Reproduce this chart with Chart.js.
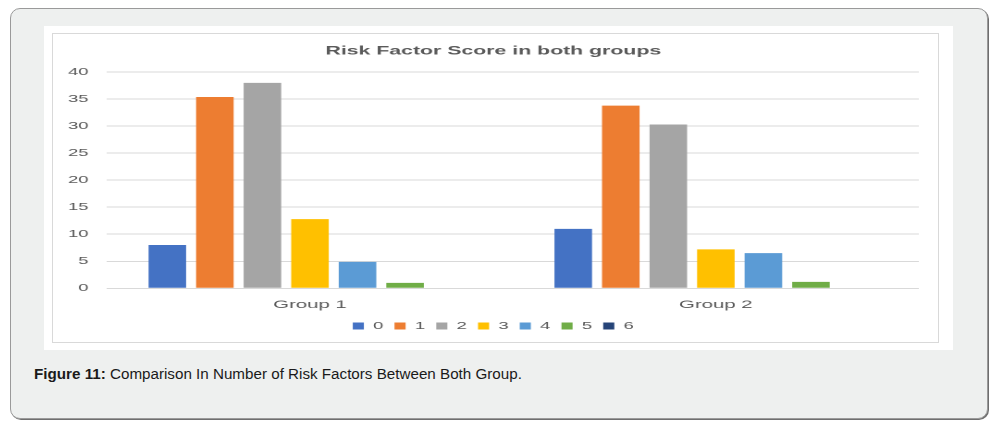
<!DOCTYPE html>
<html>
<head>
<meta charset="utf-8">
<script src="https://cdn.jsdelivr.net/npm/chart.js@4.4.1/dist/chart.umd.min.js"></script>
<style>
  html, body { margin: 0; padding: 0; background: #ffffff; }
  body { width: 1003px; height: 428px; position: relative; overflow: hidden; font-family: "Liberation Sans", Arial, sans-serif; }
  #outer { position: absolute; left: 10px; top: 8px; width: 978px; height: 411px; box-sizing: border-box;
           border: 1px solid #9a9a9a; border-radius: 10px; background: #eef0ef; box-shadow: 1px 1px 0 #6f6f6f; }
  #panel { position: absolute; left: 44px; top: 26px; width: 909px; height: 324px; background: #ffffff; }
  #frame { position: absolute; left: 52px; top: 33px; width: 887px; height: 310px; box-sizing: border-box; border: 1px solid #d9d9d9; }
  #wrap { position: absolute; left: 53px; top: 34px; width: 479px; height: 308px; transform: scaleX(1.85); transform-origin: 0 0; }
  #caption { position: absolute; left: 34px; top: 365.4px; font-size: 15.2px; line-height: 17px; color: #1a1a1a; white-space: nowrap; }
</style>
</head>
<body>
<div id="outer"></div>
<div id="panel"></div>
<div id="frame"></div>
<div id="wrap"><canvas id="c" width="479" height="308" style="width:479px;height:308px"></canvas></div>
<div id="caption"><b>Figure 11:</b> Comparison In Number of Risk Factors Between Both Group.</div>
<script>
const chartTitle = "Risk Factor Score in both groups";
const categories = ["Group 1", "Group 2"];
const seriesNames = ["0", "1", "2", "3", "4", "5", "6"];
const score0 = [8, 11];
const score1 = [35.4, 33.8];
const score2 = [38, 30.3];
const score3 = [12.8, 7.2];
const score4 = [4.9, 6.5];
const score5 = [1, 1.2];
const score6 = [0, 0];
const seriesColors = ["#4472C4", "#ED7D31", "#A5A5A5", "#FFC000", "#5B9BD5", "#70AD47", "#264478"];
const yMin = 0, yMax = 40, yStep = 5;

const seriesValues = [score0, score1, score2, score3, score4, score5, score6];
const datasets = seriesNames.map((n, i) => ({
  label: n,
  data: seriesValues[i],
  backgroundColor: seriesColors[i],
  borderWidth: 0,
  categoryPercentage: 0.82,
  barPercentage: 0.79
}));

const fontFam = '"Liberation Sans", Arial, sans-serif';
new Chart(document.getElementById('c'), {
  type: 'bar',
  data: { labels: categories, datasets },
  options: {
    responsive: false,
    animation: false,
    devicePixelRatio: 2,
    layout: { padding: { left: 8, right: 11, top: 0, bottom: 1 } },
    plugins: {
      title: {
        display: true, text: chartTitle, color: '#5a5a5a',
        font: { family: fontFam, size: 11.5, weight: 'bold' },
        padding: { top: 10.5, bottom: 13.8 }
      },
      legend: {
        position: 'bottom',
        labels: { boxWidth: 6, boxHeight: 7, padding: 6, color: '#595959', font: { family: fontFam, size: 10 } }
      },
      tooltip: { enabled: false }
    },
    scales: {
      x: {
        grid: { display: false, drawTicks: false },
        border: { display: false },
        ticks: { color: '#595959', padding: 10, font: { family: fontFam, size: 11 } },
        afterFit: (s) => { s.height = 26.7; }
      },
      y: {
        min: yMin, max: yMax,
        grid: { color: '#d9d9d9', lineWidth: 1, drawTicks: false },
        border: { display: false },
        ticks: { stepSize: yStep, color: '#595959', padding: 10, font: { family: fontFam, size: 10 } },
        afterFit: (s) => { s.width = 21.2; }
      }
    }
  }
});
</script>
</body>
</html>
